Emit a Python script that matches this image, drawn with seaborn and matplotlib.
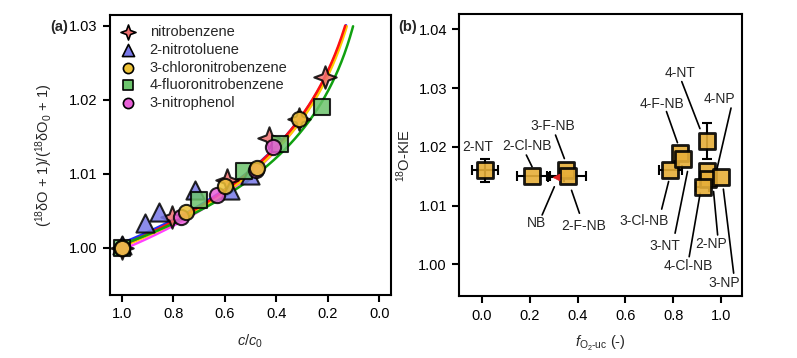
import numpy as np
import pandas as pd
import matplotlib
matplotlib.use("Agg")
import matplotlib.pyplot as plt
from matplotlib.path import Path
import seaborn as sns

# ---- panel (a): fraction remaining and isotope ratio ----
compounds = ["nitrobenzene", "2-nitrotoluene", "3-chloronitrobenzene",
             "4-fluoronitrobenzene", "3-nitrophenol"]

nb_f = [1.0, 0.804, 0.591, 0.430, 0.311, 0.211]
nb_r = [1.0000, 1.0042, 1.0092, 1.0148, 1.0174, 1.0231]

nt_f = [1.0, 0.911, 0.854, 0.716, 0.578, 0.500]
nt_r = [1.0004, 1.0034, 1.0048, 1.0078, 1.0078, 1.0098]

cnb_f = [1.0, 0.749, 0.600, 0.473, 0.311]
cnb_r = [1.0000, 1.0048, 1.0084, 1.0108, 1.0174]

fnb_f = [1.0, 0.700, 0.527, 0.385, 0.224]
fnb_r = [1.0000, 1.0065, 1.0103, 1.0140, 1.0190]

np_f = [1.0, 0.768, 0.630, 0.478, 0.411]
np_r = [1.0000, 1.0041, 1.0071, 1.0105, 1.0136]

# Rayleigh fit parameters (intercept, exponent)
fit_a = [1.0003, 1.0006, 1.0001, 1.0004, 0.9997]
fit_eps = [-0.01449, -0.0142, -0.01421, -0.01275, -0.0146]

# ---- panel (b): 18O-KIE vs f_O2-uc ----
kie_names = ["2-NT", "2-Cl-NB", "NB", "3-F-NB", "2-F-NB", "3-Cl-NB", "4-F-NB",
             "3-NT", "4-NT", "4-NP", "2-NP", "3-NP", "4-Cl-NB"]
kie_f = [0.014, 0.208, 0.310, 0.350, 0.361, 0.788, 0.830,
         0.843, 0.941, 0.941, 0.945, 1.000, 0.923]
kie = [1.0160, 1.0150, 1.0149, 1.0160, 1.0150, 1.0160, 1.0190,
       1.0180, 1.0210, 1.0159, 1.0146, 1.0149, 1.0131]
kie_ferr = [0.055, 0.063, 0.035, 0.0, 0.075, 0.047, 0.0,
            0.0, 0.0, 0.0, 0.0, 0.0, 0.028]
kie_err = [0.002, 0.0, 0.0, 0.0, 0.0, 0.0, 0.0,
           0.0, 0.003, 0.0, 0.0, 0.0, 0.0]

sns.set_theme(style="ticks")
plt.rcParams["font.family"] = ["Liberation Sans", "DejaVu Sans"]
plt.rcParams["mathtext.fontset"] = "custom"
plt.rcParams["mathtext.rm"] = "Liberation Sans"
plt.rcParams["mathtext.it"] = "Liberation Sans:italic"
plt.rcParams["axes.linewidth"] = 1.5
plt.rcParams["xtick.major.width"] = 1.5
plt.rcParams["ytick.major.width"] = 1.5
plt.rcParams["xtick.major.size"] = 5
plt.rcParams["ytick.major.size"] = 5

fig = plt.figure(figsize=(7.97, 3.58), dpi=100)
ax1 = fig.add_axes([0.138, 0.176, 0.3526, 0.782])
ax2 = fig.add_axes([0.5764, 0.173, 0.3542, 0.787])

# curves
line_colors = ["#ff1010", "#2030ff", "#ffcc00", "#10a010", "#ff40ff"]
draw_order = [4, 1, 2, 0, 3]
f_grid = np.linspace(1.0, 0.09, 300)
for i in draw_order:
    yy = fit_a[i] * f_grid ** fit_eps[i]
    keep = yy <= 1.0302
    sns.lineplot(x=f_grid[keep], y=yy[keep], color=line_colors[i], lw=1.8,
                 ax=ax1, sort=False, estimator=None, zorder=2)

# points
star4 = Path.unit_regular_star(4, 0.38)
pts = [(nb_f, nb_r), (nt_f, nt_r), (cnb_f, cnb_r), (fnb_f, fnb_r), (np_f, np_r)]
face = ["#f07070", "#7878e8", "#eec236", "#6cc46c", "#e860d8"]
marks = [star4, "^", "o", "s", "o"]
sizes = [260, 170, 120, 120, 120]
for i in [0, 1, 3, 4, 2]:
    df = pd.DataFrame({"f": pts[i][0], "r": pts[i][1]})
    sns.scatterplot(data=df, x="f", y="r", marker=marks[i], s=sizes[i],
                    color=face[i], edgecolor="black", linewidth=1.5,
                    alpha=0.85, ax=ax1, zorder=3)

handles = []
for i in range(5):
    h = ax1.scatter([], [], marker=marks[i], s=sizes[i] * 0.45, color=face[i],
                    edgecolor="black", linewidth=1.2, label=compounds[i])
    handles.append(h)
ax1.legend(handles=handles, loc="upper left", frameon=False, fontsize=10.5,
           labelspacing=0.25, handletextpad=0.5, borderaxespad=0.3,
           bbox_to_anchor=(-0.025, 1.0))

ax1.set_xlim(1.045, -0.045)
ax1.set_ylim(0.99361, 1.03144)
ax1.set_xticks([1.0, 0.8, 0.6, 0.4, 0.2, 0.0])
ax1.set_yticks([1.00, 1.01, 1.02, 1.03])
ax1.set_xticklabels(["1.0", "0.8", "0.6", "0.4", "0.2", "0.0"])
ax1.set_yticklabels(["1.00", "1.01", "1.02", "1.03"])
ax1.set_xlabel(r"$c/c_\mathrm{0}$", fontsize=10.5, labelpad=8)
ax1.set_ylabel("($^{18}$δO + 1)/($^{18}$δO$_0$ + 1)", fontsize=10.5)
ax1.yaxis.set_label_coords(-0.196, 0.5)

# panel (b)
for i in range(len(kie_names)):
    ax2.errorbar(kie_f[i], kie[i], xerr=kie_ferr[i] or None,
                 yerr=kie_err[i] or None, fmt="none", ecolor="black",
                 elinewidth=1.5, capsize=3.5, capthick=1.5, zorder=2)
dfb = pd.DataFrame({"f": kie_f, "kie": kie, "name": kie_names})
sq = dfb[dfb["name"] != "NB"]
sns.scatterplot(data=sq, x="f", y="kie", marker="s", s=125, color="#e6ae38",
                edgecolor="black", linewidth=2.0, alpha=0.9, ax=ax2, zorder=3)
nb = dfb[dfb["name"] == "NB"]
sns.scatterplot(data=nb, x="f", y="kie", marker="<", s=25, color="#e02020",
                edgecolor="#e02020", ax=ax2, zorder=4)

# label text position and leader line (text xy, line start, line end)
label_pos = {
    "2-NT": ((-0.017, 1.0200), None, None),
    "2-Cl-NB": ((0.189, 1.0202), (0.186, 1.0186), (0.21, 1.0166)),
    "3-F-NB": ((0.298, 1.0235), (0.308, 1.0220), (0.345, 1.0180)),
    "NB": ((0.228, 1.0071), (0.252, 1.0084), (0.303, 1.0132)),
    "2-F-NB": ((0.424, 1.0065), (0.375, 1.0126), (0.408, 1.0087)),
    "3-Cl-NB": ((0.678, 1.0074), (0.781, 1.0141), (0.752, 1.0094)),
    "4-F-NB": ((0.755, 1.0273), (0.772, 1.0260), (0.818, 1.0207)),
    "3-NT": ((0.766, 1.0031), (0.860, 1.0158), (0.808, 1.0053)),
    "4-NT": ((0.829, 1.0326), (0.836, 1.0311), (0.912, 1.0231)),
    "4-NP": ((0.993, 1.0281), (1.042, 1.0266), (0.979, 1.0155)),
    "3-NP": ((1.014, 0.9968), (1.010, 1.0128), (1.053, 0.9985)),
    "2-NP": ((0.958, 1.0034), (0.969, 1.0124), (0.986, 1.0050)),
    "4-Cl-NB": ((0.863, 0.9998), (0.913, 1.0121), (0.867, 1.0013)),
}
for name in kie_names:
    txt, p0, p1 = label_pos[name]
    ax2.text(txt[0], txt[1], name, ha="center", va="center", fontsize=10)
    if p0 is not None:
        ax2.plot([p0[0], p1[0]], [p0[1], p1[1]], color="black", lw=1.2, zorder=1)

ax2.set_xlim(-0.094, 1.0866)
ax2.set_ylim(0.9946, 1.04255)
ax2.set_xticks([0.0, 0.2, 0.4, 0.6, 0.8, 1.0])
ax2.set_xticklabels(["0.0", "0.2", "0.4", "0.6", "0.8", "1.0"])
ax2.set_yticks([1.00, 1.01, 1.02, 1.03, 1.04])
ax2.set_yticklabels(["1.00", "1.01", "1.02", "1.03", "1.04"])
ax2.set_xlabel(r"$f_{\mathrm{O_2}\text{-}\mathrm{uc}}$ (-)", fontsize=10.5, labelpad=8)
ax2.set_ylabel("$^{18}$O-KIE", fontsize=10.5)
ax2.yaxis.set_label_coords(-0.164, 0.5)

for ax in (ax1, ax2):
    ax.tick_params(labelsize=10.5, pad=4, colors="black")
    for s in ax.spines.values():
        s.set_visible(True)
        s.set_color("black")

fig.text(0.0627, 0.924, "(a)", fontsize=10.5, fontweight="bold", va="center")
fig.text(0.5, 0.924, "(b)", fontsize=10.5, fontweight="bold", va="center")

fig.savefig("out.png", dpi=100)
